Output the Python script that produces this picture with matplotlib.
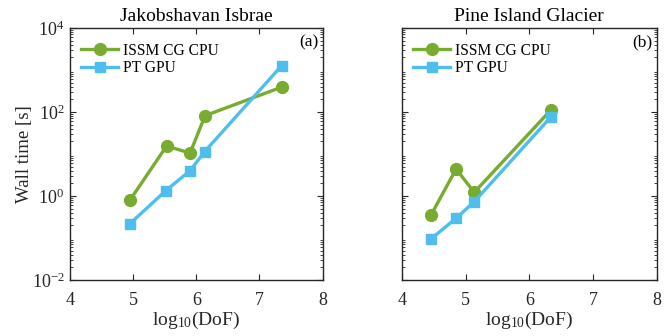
import matplotlib
matplotlib.use("Agg")
import matplotlib.pyplot as plt
from matplotlib.ticker import LogLocator, NullFormatter, FixedLocator

plt.rcParams['font.family'] = ['Liberation Serif', 'DejaVu Serif']
plt.rcParams['mathtext.fontset'] = 'custom'
plt.rcParams['mathtext.rm'] = 'Liberation Serif'
plt.rcParams['mathtext.it'] = 'Liberation Serif:italic'
plt.rcParams['axes.unicode_minus'] = False

titles = ["Jakobshavan Isbrae", "Pine Island Glacier"]
panel_tags = ["(a)", "(b)"]
series_names = ["ISSM CG CPU", "PT GPU"]

jak_x_cpu = [4.95, 5.53, 5.90, 6.14, 7.35]
jak_y_cpu = [0.80, 15.5, 10.5, 82, 390]
jak_x_gpu = [4.95, 5.52, 5.90, 6.13, 7.35]
jak_y_gpu = [0.22, 1.35, 4.0, 11.3, 1260]

pig_x_cpu = [4.455, 4.85, 5.135, 6.335]
pig_y_cpu = [0.35, 4.4, 1.22, 110]
pig_x_gpu = [4.455, 4.85, 5.135, 6.335]
pig_y_gpu = [0.095, 0.295, 0.73, 75]

green = '#77AC30'
blue = '#4DBEEE'
txt = '#262626'

fig = plt.figure(figsize=(6.7, 3.36), dpi=100)
ax1 = fig.add_axes([0.1045, 0.1667, 0.377, 0.75])
ax2 = fig.add_axes([0.6, 0.1667, 0.380, 0.75])

data = [
    (jak_x_cpu, jak_y_cpu, jak_x_gpu, jak_y_gpu),
    (pig_x_cpu, pig_y_cpu, pig_x_gpu, pig_y_gpu),
]

for i, (ax, (xc, yc, xg, yg)) in enumerate(zip([ax1, ax2], data)):
    ax.plot(xc, yc, '-o', color=green, lw=2.4, ms=8.5, label=series_names[0])
    ax.plot(xg, yg, '-s', color=blue, lw=2.4, ms=7.5, label=series_names[1])
    ax.set_yscale('log')
    ax.set_xlim(4, 8)
    ax.set_ylim(1e-2, 1e4)
    ax.xaxis.set_major_locator(FixedLocator([4, 5, 6, 7, 8]))
    ax.yaxis.set_major_locator(FixedLocator([1e-2, 1e0, 1e2, 1e4]))
    ax.yaxis.set_minor_locator(LogLocator(base=10, subs=range(2, 10), numticks=20))
    ax.yaxis.set_minor_formatter(NullFormatter())
    ax.tick_params(which='both', direction='in', top=True, right=True,
                   colors=txt, labelsize=13)
    ax.tick_params(axis='x', pad=9)
    ax.tick_params(axis='y', pad=4)
    ax.tick_params(which='major', length=4, width=0.8)
    ax.tick_params(which='minor', length=2, width=0.6)
    for s in ax.spines.values():
        s.set_color(txt)
        s.set_linewidth(1.0)
    ax.set_title(titles[i], fontsize=14, color='black', pad=5)
    ax.set_xlabel(r'log$_{10}$(DoF)', fontsize=14, color=txt, labelpad=0)
    ax.text(0.985, 0.975, panel_tags[i], transform=ax.transAxes,
            ha='right', va='top', fontsize=12.5, color='black')
    leg = ax.legend(loc='upper left', frameon=False, fontsize=11.2,
                    handlelength=2.4, handletextpad=0.3, borderaxespad=0.3,
                    labelspacing=0.1, bbox_to_anchor=(0.0, 0.985))
    for t in leg.get_texts():
        t.set_color('black')

ax1.set_ylabel('Wall time [s]', fontsize=13.5, color=txt, labelpad=-1)
ax2.tick_params(labelleft=False)

fig.savefig('out.png', dpi=100)
